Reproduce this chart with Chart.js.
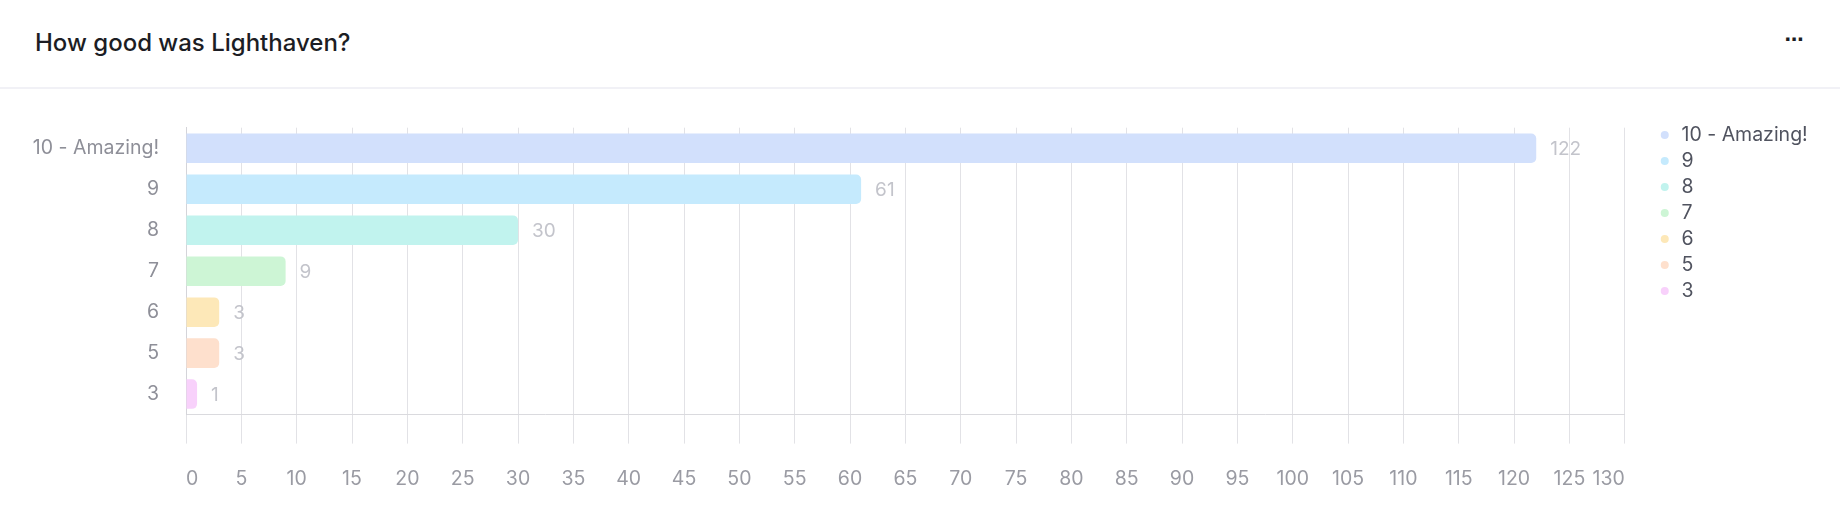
<!DOCTYPE html>
<html>
<head>
<meta charset="utf-8">
<script src="https://cdn.jsdelivr.net/npm/chart.js@4.4.0/dist/chart.umd.min.js"></script>
<style>
  html, body { margin:0; padding:0; background:#ffffff; width:1840px; height:517px; overflow:hidden;
    font-family: Inter, "Noto Sans", "DejaVu Sans", sans-serif; }
  #hdr { position:absolute; left:0; top:0; width:1840px; height:87px; border-bottom:2px solid #f1f1f6; }
  #title { position:absolute; left:35px; top:28px; font-size:24px; line-height:30px; font-weight:500; color:#1c1d24; white-space:nowrap; }
  #more { position:absolute; left:1779px; top:26px; width:30px; text-align:center; font-size:19px; line-height:28px; font-weight:600; color:#1c1d24; }
  #wrap { position:absolute; left:0; top:89px; width:1840px; height:428px; }
</style>
</head>
<body>
<div id="hdr">
  <div id="title">How good was Lighthaven?</div>
  <div id="more">⋯</div>
</div>
<div id="wrap"><canvas id="c" width="1840" height="428"></canvas></div>
<script>
// ---- data ----
const categories = ['10 - Amazing!', '9', '8', '7', '6', '5', '3'];
const responses  = [122, 61, 30, 9, 3, 3, 1];
const barColors  = ['#d2e0fc', '#c5eafd', '#c1f3ee', '#cdf5d5', '#fde8b8', '#fee0cd', '#f8d1fb'];
const xTickMin = 0;
const xTickMax = 130;
const xTickStep = 5;

const FS = 19.5;
Chart.defaults.font.family = 'Inter, "Noto Sans", "DejaVu Sans", sans-serif';

const valueLabels = {
  id: 'valueLabels',
  afterDatasetsDraw(chart) {
    const ctx = chart.ctx;
    const meta = chart.getDatasetMeta(0);
    const data = chart.data.datasets[0].data;
    ctx.save();
    ctx.font = '400 19px Inter, "Noto Sans", sans-serif';
    ctx.fillStyle = '#c3c4cb';
    ctx.textAlign = 'left';
    ctx.textBaseline = 'middle';
    meta.data.forEach((bar, i) => {
      ctx.fillText(String(data[i]), bar.x + 14, bar.y + 1);
    });
    ctx.restore();
  }
};

new Chart(document.getElementById('c'), {
  type: 'bar',
  data: {
    labels: categories,
    datasets: [{
      label: 'Responses',
      data: responses,
      backgroundColor: barColors,
      borderWidth: 0,
      borderRadius: 5,
      borderSkipped: 'start',
      xAxisID: 'x',
      yAxisID: 'y'
    }]
  },
  plugins: [valueLabels],
  options: {
    indexAxis: 'y',
    responsive: false,
    animation: false,
    layout: { padding: { top: 29.65, bottom: 1.4, left: 0, right: 22.3 } },
    scales: {
      x: {
        type: 'linear', position: 'bottom', min: xTickMin, max: xTickMax,
        ticks: { stepSize: xTickStep, align: 'inner', padding: 24.3, color: '#9a9ba3',
                 font: { size: FS }, autoSkip: false, maxRotation: 0 },
        grid: { color: '#e2e2e6', tickLength: 29, drawTicks: true },
        border: { display: true, color: '#dadade' }
      },
      y: {
        type: 'category', position: 'left',
        grid: { display: false, drawTicks: false },
        border: { display: true, color: '#d4d4d9' },
        ticks: { padding: 27, color: '#8e8f98', font: { size: FS } },
        afterFit(s) { s.width = 186; }
      },
      xTop: {
        type: 'linear', axis: 'x', position: 'top', display: true,
        grid: { display: false, drawTicks: false }, border: { display: false },
        ticks: { display: false },
        afterFit(s) { s.height = 7.35; }
      },
      yRight: {
        type: 'linear', axis: 'y', position: 'right', display: true,
        grid: { display: false, drawTicks: false }, border: { display: false },
        ticks: { display: false },
        afterFit(s) { s.width = 26.55; }
      }
    },
    plugins: {
      tooltip: { enabled: false },
      legend: {
        position: 'right', align: 'start',
        labels: {
          usePointStyle: true, pointStyle: 'circle',
          boxWidth: 13.9, boxHeight: 5.66, padding: 6.5,
          color: '#50535f', font: { size: FS },
          generateLabels(chart) {
            const ds = chart.data.datasets[0];
            return chart.data.labels.map((l, i) => ({
              text: l, fillStyle: ds.backgroundColor[i], strokeStyle: ds.backgroundColor[i],
              lineWidth: 0, pointStyle: 'circle', hidden: false, index: i, fontColor: '#50535f'
            }));
          }
        }
      }
    }
  }
});
</script>
</body>
</html>
